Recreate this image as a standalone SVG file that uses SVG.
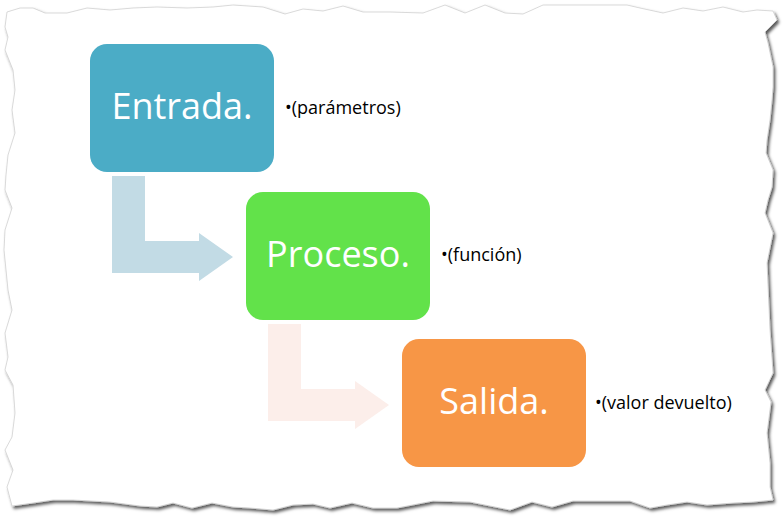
<svg xmlns="http://www.w3.org/2000/svg" width="783" height="519" viewBox="0 0 783 519">
<style>
.box-text{font-family:"Open Sans","Noto Sans",sans-serif;font-size:36px;fill:#ffffff;text-anchor:middle}
.note{font-family:"Open Sans","Noto Sans",sans-serif;font-size:18px;fill:#000000}
</style>
<defs>
<filter id="shadow" x="-5%" y="-5%" width="110%" height="110%">
<feDropShadow dx="2" dy="2.5" stdDeviation="1.5" flood-color="#000000" flood-opacity="0.65"/>
</filter>
</defs>
<rect width="783" height="519" fill="#ffffff"/>
<path id="paper" filter="url(#shadow)" fill="#ffffff" stroke="#d0d0d0" stroke-width="0.8" d="M7,12 L20,8 L33,8 L45,13 L67,13 L87,8 L110,10 L133,8 L157,7 L187,8 L213,7 L233,5 L263,7 L285,14 L303,9 L323,11 L343,6 L363,12 L390,12 L423,13 L445,5 L465,13 L485,5 L505,13 L523,14 L543,5 L583,5 L627,5 L640,8 L663,13 L683,8 L703,11 L723,7 L743,12 L757,10 L773,11 L777,20 L765,32 L768,43 L773,67 L773,87 L772,100 L770,120 L767,140 L766,153 L773,170 L772,187 L768,200 L765,213 L773,233 L767,263 L770,330 L773,373 L765,390 L771,402 L767,433 L770,463 L770,487 L773,500 L753,502 L733,503 L707,505 L687,502 L667,505 L650,508 L630,501 L573,501 L552,507 L532,502 L510,510 L470,502 L433,501 L397,508 L373,508 L352,503 L330,508 L313,504 L293,505 L273,510 L250,508 L233,507 L212,503 L192,508 L173,503 L157,507 L140,506 L110,502 L73,500 L53,500 L33,503 L12,506 L7,487 L13,470 L5,450 L12,437 L15,413 L13,385 L5,370 L8,357 L5,333 L12,310 L8,290 L4,250 L5,230 L12,208 L5,190 L6,175 L8,155 L15,133 L12,110 L15,90 L13,70 L5,50 L8,37 L5,27 Z"/>
<g id="connectors">
<polygon fill="#C2DBE5" points="112,176 145,176 145,241 199,241 199,233 233,257 199,281 199,273 112,273"/>
<polygon fill="#FCEEEA" points="268,324 301,324 301,389 355,389 355,381 389,405 355,429 355,421 268,421"/>
</g>
<g id="entrada">
<rect x="90" y="44" width="184" height="128" rx="17" fill="#4BACC6"/>
<text class="box-text" x="182" y="119">Entrada.</text>
</g>
<g id="proceso">
<rect x="246" y="192" width="184" height="128" rx="17" fill="#62E24A"/>
<text class="box-text" x="338" y="267">Proceso.</text>
</g>
<g id="salida">
<rect x="402" y="339" width="184" height="128" rx="17" fill="#F79646"/>
<text class="box-text" x="494" y="414">Salida.</text>
</g>
<g id="note-entrada"><text class="note" x="285" y="114">•(parámetros)</text></g>
<g id="note-proceso"><text class="note" x="441" y="261">•(función)</text></g>
<g id="note-salida"><text class="note" x="595" y="409">•(valor devuelto)</text></g>
</svg>
